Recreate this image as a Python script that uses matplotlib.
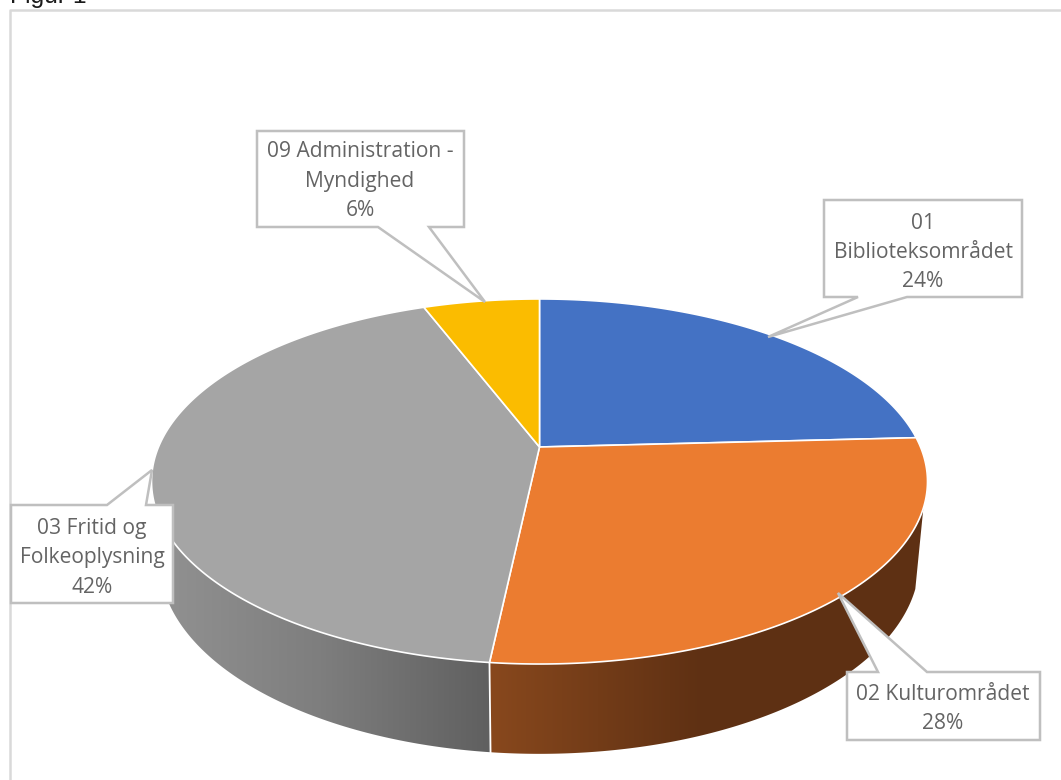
import numpy as np
import matplotlib
matplotlib.use("Agg")
import matplotlib.pyplot as plt
from matplotlib.patches import Polygon

# data
names = ["01\nBiblioteksområdet", "02 Kulturområdet", "03 Fritid og\nFolkeoplysning",
         "09 Administration -\nMyndighed"]
shares = [24.15, 27.55, 42.49, 5.81]
top_colors = ["#4472C4", "#EB7C30", "#A5A5A5", "#FBBC00"]

# pixel geometry of the tilted pie
CX = 539.5
K = 0.189
TOP = (381.0, 447.0, 176.0)
BOTTOM = (373.0, 524.5, 186.0)
SIDE_FROM, SIDE_TO = 109.0, 251.0


def project(deg, disc):
    r, y0, b = disc
    t = np.radians(deg)
    u, v = np.sin(t), -np.cos(t)
    den = 1 - K * v
    return CX + r * u / den, y0 + b * v / den


def arc(a0, a1, disc):
    degs = np.linspace(a0, a1, max(int(abs(a1 - a0) * 3), 2))
    x, y = project(degs, disc)
    return np.column_stack([x, y])


def side_face(ax, a0, a1, stops_x, stops_grey):
    pts = np.vstack([arc(a0, a1, TOP), arc(a1, a0, BOTTOM)])
    patch = Polygon(pts, closed=True, fc="none", ec="none")
    ax.add_patch(patch)
    xs = np.arange(100, 1000)
    grad = np.stack([np.interp(xs, stops_x, [c[i] for c in stops_grey]) for i in range(3)], axis=-1)
    im = ax.imshow(grad[np.newaxis, :, :] / 255.0, extent=(100, 1000, 780, 0), aspect="auto", zorder=2)
    im.set_clip_path(patch)


fig = plt.figure(figsize=(10.61, 7.8), dpi=100)
ax = fig.add_axes([0, 0, 1, 1])
ax.axis("off")

# slice limits in degrees, clockwise from the top
limits = np.concatenate([[0], np.cumsum(shares)]) / sum(shares) * 360

side_face(ax, SIDE_FROM, limits[2], [490, 705], [(0x88, 0x48, 0x1D), (0x5E, 0x30, 0x13)])
side_face(ax, limits[2], SIDE_TO, [170, 320, 488], [(0x90, 0x90, 0x90), (0x7E, 0x7E, 0x7E), (0x60, 0x60, 0x60)])

# white seam on the side
sx, sy = project(limits[2], TOP)
bx, by = project(limits[2], BOTTOM)
ax.plot([sx, bx], [sy, by], color="white", lw=1.3, zorder=3)

# top face
for i, c in enumerate(top_colors):
    pts = np.vstack([[CX, TOP[1]], arc(limits[i], limits[i + 1], TOP)])
    ax.add_patch(Polygon(pts, closed=True, fc=c, ec="white", lw=1.2, joinstyle="round", zorder=4))

# data label boxes with their pointers
boxes = [
    [(824, 200), (1022, 200), (1022, 297), (907, 297), (768, 337), (858, 297), (824, 297)],
    [(847, 672), (878, 672), (838, 593), (927, 672), (1040, 672), (1040, 740), (847, 740)],
    [(11, 505), (107, 505), (152, 470), (146, 505), (173, 505), (173, 603), (11, 603)],
    [(257, 131), (464, 131), (464, 227), (429, 227), (485, 302), (378, 227), (257, 227)],
]
text_pos = [(923, 252.5), (943, 709), (92, 558), (360, 181)]
for box, pos, name, share in zip(boxes, text_pos, names, shares):
    ax.add_patch(Polygon(box, closed=True, fc="white", ec="#BFBFBF", lw=1.8, joinstyle="miter", zorder=5))
    ax.text(pos[0], pos[1], f"{name}\n{share / sum(shares) * 100:.0f}%", ha="center", va="center",
            multialignment="center", fontsize=15.1, family="Open Sans", color="#646464",
            linespacing=1.53, zorder=6)

# outer frame of the chart and the clipped caption above it
ax.plot([10, 10, 1061], [780, 10, 10], color="#D9D9D9", lw=1.8, zorder=1)
ax.text(10, 3, "Figur 1", fontsize=17.8, family="Liberation Sans", color="#1A1A1A", va="baseline", ha="left")

ax.set_xlim(0, 1061)
ax.set_ylim(780, 0)
fig.savefig("out.png", dpi=100)
